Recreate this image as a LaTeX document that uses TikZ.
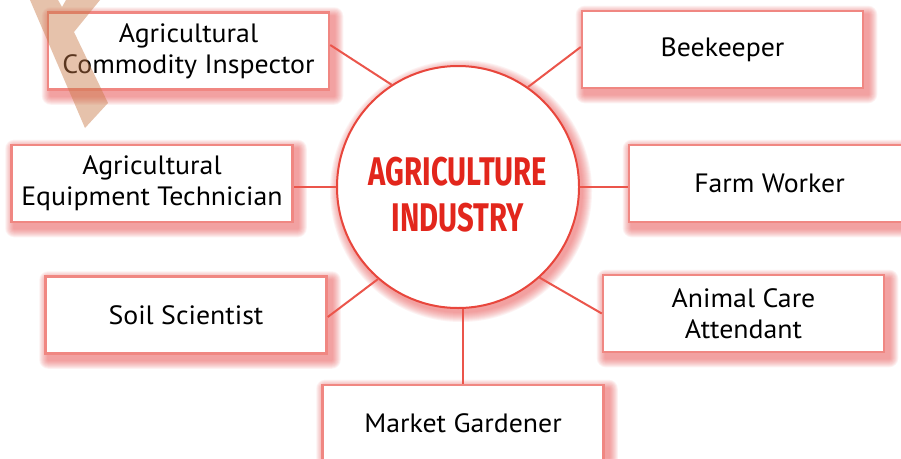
\documentclass[tikz,border=0pt]{standalone}
\usepackage{fontspec}
\setmainfont[FakeStretch=1.05]{PT Sans}
\newfontfamily\titlefont[FakeStretch=0.73]{Fira Sans}
\usetikzlibrary{backgrounds}
\definecolor{boxred}{RGB}{240,135,130}
\definecolor{linered}{RGB}{235,85,75}
\definecolor{hubred}{RGB}{232,70,60}
\definecolor{titlered}{RGB}{226,38,28}
\definecolor{wmark}{RGB}{200,120,70}
\definecolor{glowred}{RGB}{235,80,80}
\newcommand{\boxglow}[1]{%
  \foreach \r in {1,...,9}{%
    \fill[glowred, opacity=0.08, rounded corners=\r pt]
      ([xshift=4pt-\r pt, yshift=-5pt+\r pt]#1.north west) rectangle
      ([xshift=4pt+\r pt, yshift=-5pt-\r pt]#1.south east);
  }}
\begin{document}
\begin{tikzpicture}[x=1pt,y=-1pt,
  jobbox/.style={draw=boxred, line width=2.5pt, fill=white, minimum width=281pt,
    minimum height=77pt, align=center, font=\fontsize{26.5}{31}\selectfont, inner sep=0pt},
  link/.style={draw=linered, line width=2pt},
  hubstyle/.style={circle, draw=hubred, line width=2pt, fill=white, minimum size=242pt,
    inner sep=0pt},
  titlestyle/.style={font=\titlefont\bfseries\fontsize{40}{46}\selectfont, text=titlered, align=center}
]
\useasboundingbox (0,0) rectangle (901,458);

\node[hubstyle] (hub) at (458,187) {};
\node[titlestyle] (title) at (458,195) {AGRICULTURE\\INDUSTRY};

\node[jobbox] (insp) at (188.5,51) {Agricultural\\Commodity Inspector};
\node[jobbox] (bee) at (722.5,49.5) {Beekeeper};
\node[jobbox] (equip) at (152,183.5) {Agricultural\\Equipment Technician};
\node[jobbox] (farm) at (769.5,183.5) {Farm Worker};
\node[jobbox] (soil) at (186,315) {Soil Scientist};
\node[jobbox] (anim) at (743.5,313.5) {Animal Care\\Attendant};
\node[jobbox] (gard) at (463,423.5) {Market Gardener};

\begin{scope}[on background layer]
  \fill[white] (0,0) rectangle (901,458);
  \foreach \r in {1,...,10}{%
    \fill[glowred, opacity=0.07] ([xshift=3pt,yshift=-4pt]hub.center) circle (121pt+\r pt);
  }
  \boxglow{insp}\boxglow{bee}\boxglow{equip}\boxglow{farm}
  \boxglow{soil}\boxglow{anim}\boxglow{gard}
\end{scope}

\draw[link] ([yshift=6pt]insp.east) -- (hub.123);
\draw[link] ([yshift=2.5pt]bee.west) -- (hub.55);
\draw[link] (hub.west) -- (equip.east |- hub.west);
\draw[link] (hub.east) -- (farm.west |- hub.east);
\draw[link] ([yshift=-2pt]soil.east) -- (hub.229);
\draw[link] (hub.312) -- (anim.west);
\draw[link] (gard.north |- hub.south) -- (gard.north);

\fill[wmark, opacity=0.45] (30,0) -- (58,0) -- (62,7) -- (66,0) -- (100,0) -- (74,32)
  -- (108,103) -- (85,128) -- cycle;
\end{tikzpicture}
\end{document}
